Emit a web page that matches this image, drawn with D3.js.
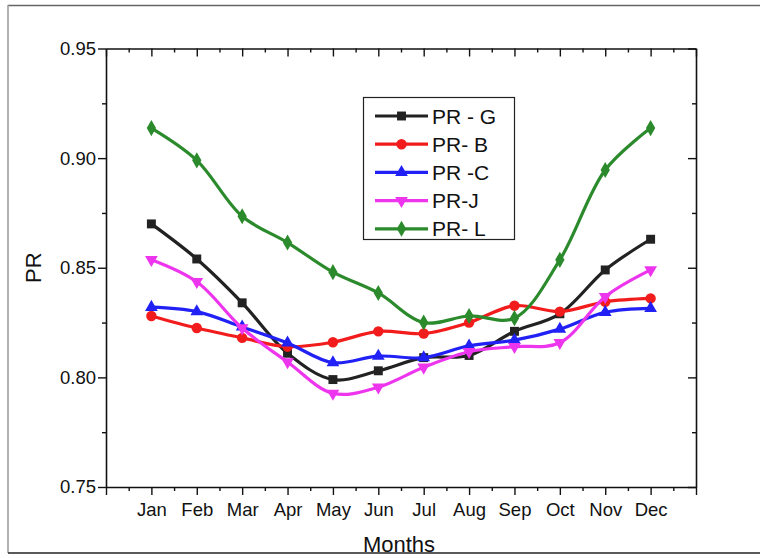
<!DOCTYPE html>
<html>
<head>
<meta charset="utf-8">
<script src="https://cdn.jsdelivr.net/npm/d3@7"></script>
<style>
  html, body { margin: 0; padding: 0; background: #fff; }
  svg { display: block; font-family: "Liberation Sans", Arial, sans-serif; }
</style>
</head>
<body>
<svg id="chart" width="760" height="558"></svg>
<script>
// Monthly performance ratio for five sites
const months = ["Jan","Feb","Mar","Apr","May","Jun","Jul","Aug","Sep","Oct","Nov","Dec"];
const prG = [0.870, 0.854, 0.834, 0.811, 0.799, 0.803, 0.809, 0.810, 0.821, 0.829, 0.849, 0.863];
const prB = [0.828, 0.8225, 0.818, 0.814, 0.816, 0.821, 0.820, 0.825, 0.8327, 0.830, 0.8345, 0.836];
const prC = [0.832, 0.830, 0.823, 0.8157, 0.8067, 0.8097, 0.809, 0.8144, 0.817, 0.822, 0.8297, 0.8315];
const prJ = [0.8537, 0.8436, 0.8225, 0.807, 0.7927, 0.7955, 0.8046, 0.8117, 0.814, 0.8158, 0.8368, 0.849];
const prL = [0.9137, 0.899, 0.8735, 0.8615, 0.848, 0.8385, 0.825, 0.828, 0.827, 0.8536, 0.8946, 0.9137];
const yTicks = [0.75, 0.80, 0.85, 0.90, 0.95];

const series = [
  { name: "PR - G", values: prG, color: "#222222", symbol: d3.symbolSquare, size: 80, rot: 0 },
  { name: "PR- B",  values: prB, color: "#f21c1c", symbol: d3.symbolCircle, size: 85, rot: 0 },
  { name: "PR -C",  values: prC, color: "#2121f5", symbol: d3.symbolTriangle, size: 70, rot: 0 },
  { name: "PR-J",   values: prJ, color: "#ee35ee", symbol: d3.symbolTriangle, size: 70, rot: 180 },
  { name: "PR- L",  values: prL, color: "#2b8a2b", symbol: d3.symbolDiamond, size: 75, rot: 0 }
];

const svg = d3.select("#chart");
const W = 760, H = 558;
const plot = { left: 106, right: 696, top: 48.5, bottom: 487 };

// outer frame
svg.append("line").attr("x1", 8).attr("x2", W).attr("y1", 5.5).attr("y2", 5.5)
  .attr("stroke", "#666").attr("stroke-width", 1.5);
svg.append("line").attr("x1", 8).attr("x2", 8).attr("y1", 5).attr("y2", 553)
  .attr("stroke", "#999").attr("stroke-width", 1.5);
svg.append("line").attr("x1", 8).attr("x2", W).attr("y1", 553).attr("y2", 553)
  .attr("stroke", "#222").attr("stroke-width", 1.5);

const x = d3.scaleLinear().domain([0, 13]).range([plot.left, plot.right]);
const y = d3.scaleLinear().domain([0.75, 0.95]).range([plot.bottom, plot.top]);

const majorX = d3.range(0, 14);
const minorX = d3.range(0.5, 13, 1);
const minorY = [0.775, 0.825, 0.875, 0.925];

// bottom axis: outward ticks, month labels
const axBottom = svg.append("g").attr("transform", `translate(0,${plot.bottom})`);
axBottom.call(d3.axisBottom(x).tickValues(majorX).tickSize(8).tickSizeOuter(0)
  .tickFormat(d => (d >= 1 && d <= 12) ? months[d - 1] : ""));
axBottom.append("g").call(d3.axisBottom(x).tickValues(minorX).tickSize(4).tickFormat(""))
  .select(".domain").remove();

// top axis: inward ticks
const axTop = svg.append("g").attr("transform", `translate(0,${plot.top})`);
axTop.call(d3.axisBottom(x).tickValues(majorX).tickSize(8).tickSizeOuter(0).tickFormat(""));
axTop.append("g").call(d3.axisBottom(x).tickValues(minorX).tickSize(4).tickFormat(""))
  .select(".domain").remove();

// left axis: outward ticks with labels
const axLeft = svg.append("g").attr("transform", `translate(${plot.left},0)`);
axLeft.call(d3.axisLeft(y).tickValues(yTicks).tickSize(8).tickSizeOuter(0).tickFormat(d3.format(".2f")));
axLeft.append("g").call(d3.axisLeft(y).tickValues(minorY).tickSize(4).tickFormat(""))
  .select(".domain").remove();

// right axis: inward ticks
const axRight = svg.append("g").attr("transform", `translate(${plot.right},0)`);
axRight.call(d3.axisLeft(y).tickValues(yTicks).tickSize(8).tickSizeOuter(0).tickFormat(""));
axRight.append("g").call(d3.axisLeft(y).tickValues(minorY).tickSize(4).tickFormat(""))
  .select(".domain").remove();

svg.selectAll(".domain").attr("stroke", "#111").attr("stroke-width", 1.6);
svg.selectAll(".tick line").attr("stroke", "#111").attr("stroke-width", 1.4);
svg.selectAll(".tick text").attr("fill", "#111").style("font-size", "18.5px")
  .style("font-family", "'Liberation Sans', Arial, sans-serif");
axBottom.selectAll(".tick text").attr("dy", "1em").attr("y", 10);
axLeft.selectAll(".tick text").attr("x", -10);

// axis titles
svg.append("text").attr("x", 399).attr("y", 552)
  .attr("text-anchor", "middle").style("font-size", "22px").attr("fill", "#111").text("Months");
svg.append("text").attr("transform", `translate(41,${(plot.top + plot.bottom) / 2}) rotate(-90)`)
  .attr("text-anchor", "middle").style("font-size", "22px").attr("fill", "#111").text("PR");

// series lines and markers
const line = d3.line().x((d, i) => x(i + 1)).y(d => y(d)).curve(d3.curveCatmullRom.alpha(0.5));

function drawMarker(sel, s) {
  sel.append("path")
    .attr("d", d3.symbol().type(s.symbol).size(s.size))
    .attr("fill", s.color);
}

series.forEach(s => {
  const g = svg.append("g");
  g.append("path").datum(s.values).attr("d", line)
    .attr("fill", "none").attr("stroke", s.color).attr("stroke-width", 3.2)
    .attr("stroke-linejoin", "round");
  g.selectAll("g.pt").data(s.values).join("g").attr("class", "pt")
    .attr("transform", (d, i) => `translate(${x(i + 1)},${y(d)}) rotate(${s.rot})`)
    .each(function () { drawMarker(d3.select(this), s); });
});

// legend
const lg = svg.append("g");
lg.append("rect").attr("x", 363.5).attr("y", 97.5).attr("width", 151).attr("height", 142)
  .attr("fill", "#fff").attr("stroke", "#222").attr("stroke-width", 1.2);
series.forEach((s, i) => {
  const yy = 116 + i * 28.2;
  lg.append("line").attr("x1", 375).attr("x2", 428).attr("y1", yy).attr("y2", yy)
    .attr("stroke", s.color).attr("stroke-width", 3.2);
  const m = lg.append("g").attr("transform", `translate(401.5,${yy}) rotate(${s.rot})`);
  drawMarker(m, s);
  lg.append("text").attr("x", 432).attr("y", yy + 7.5).style("font-size", "21px")
    .attr("fill", "#111").text(s.name);
});
</script>
</body>
</html>
